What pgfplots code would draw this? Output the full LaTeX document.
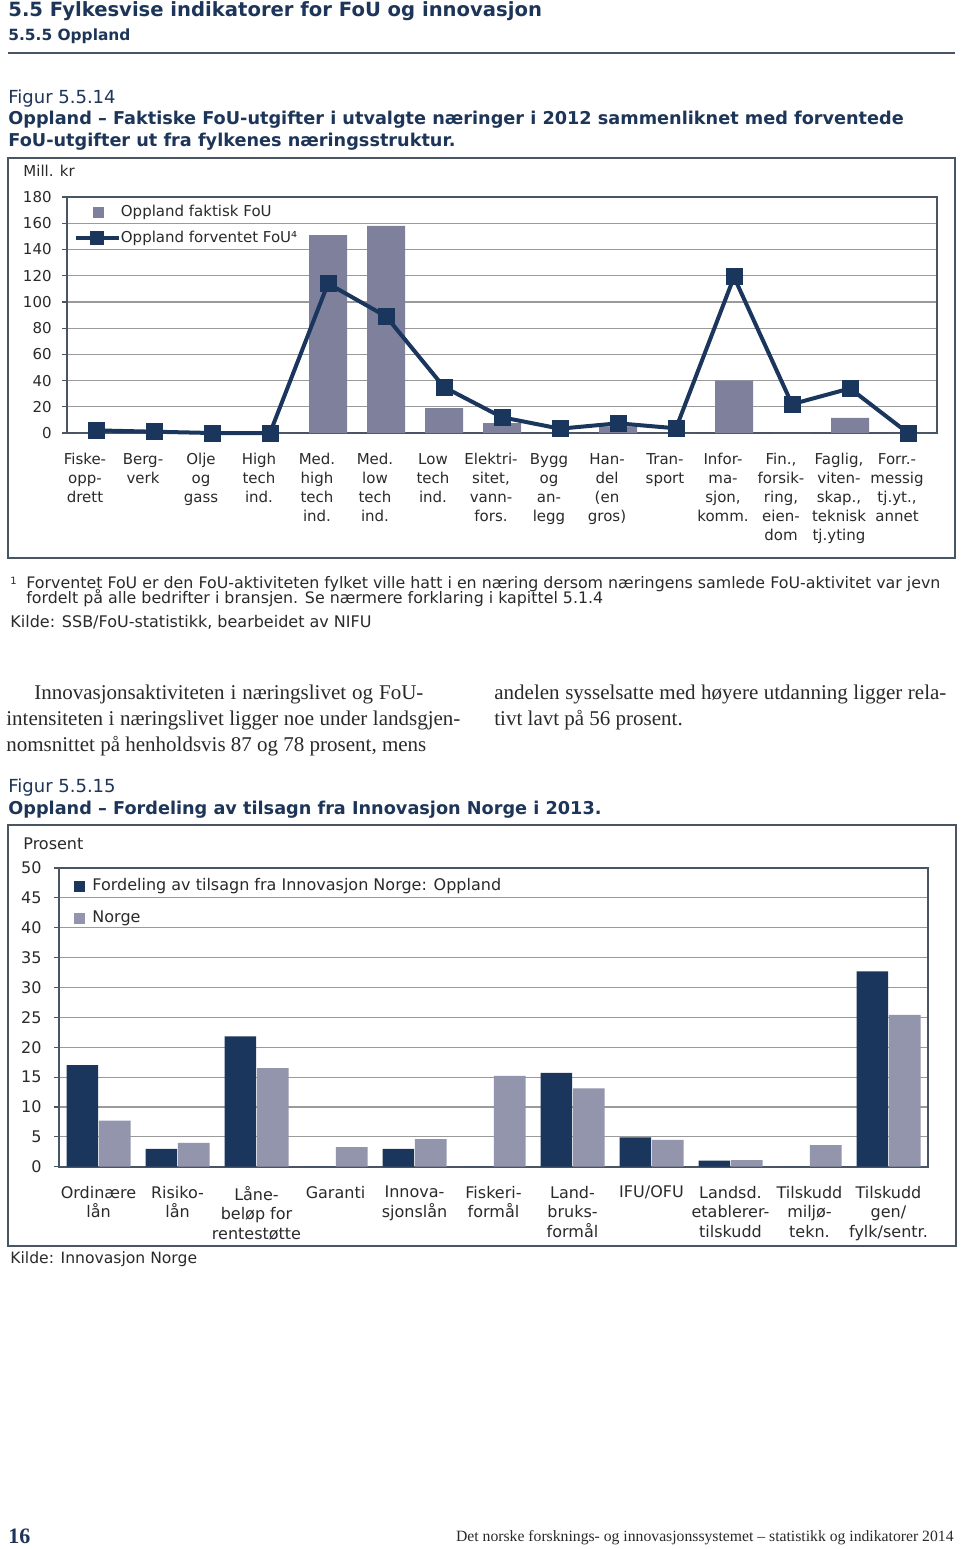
\documentclass[border=0pt]{standalone}
\usepackage{pgfplots}
\pgfplotsset{compat=1.18}
\usepackage{fontspec}
\setmainfont{Liberation Serif}
\newfontfamily\vf{DejaVu Sans}
\definecolor{navy}{HTML}{1B365D}
\definecolor{headc}{HTML}{1D3558}
\definecolor{barA}{HTML}{7F809C}
\definecolor{barB}{HTML}{9395AD}
\definecolor{framec}{HTML}{4A5563}
\definecolor{gridc}{HTML}{9A9A9A}
\definecolor{txt}{HTML}{2A2A2A}
\begin{document}
\begin{tikzpicture}[x=0.5pt,y=-0.5pt]
\path[use as bounding box, fill=white] (0,0) rectangle (960,1549);
% ---------- page headings
\node[anchor=base west, inner sep=0pt, text=headc, font=\vf\bfseries\fontsize{9.8}{11}\selectfont] at (8,16) {5.5 Fylkesvise indikatorer for FoU og innovasjon};
\node[anchor=base west, inner sep=0pt, text=headc, font=\vf\bfseries\fontsize{7.7}{9}\selectfont] at (8,40) {5.5.5 Oppland};
\draw[framec, line width=0.8pt] (8,53) -- (955,53);
\node[anchor=base west, inner sep=0pt, text=headc, font=\vf\fontsize{9}{11}\selectfont] at (8,103) {Figur 5.5.14};
\node[anchor=base west, inner sep=0pt, text=headc, font=\vf\bfseries\fontsize{8.84}{11}\selectfont] at (8,124) {Oppland – Faktiske FoU-utgifter i utvalgte næringer i 2012 sammenliknet med forventede};
\node[anchor=base west, inner sep=0pt, text=headc, font=\vf\bfseries\fontsize{8.84}{11}\selectfont] at (8,146) {FoU-utgifter ut fra fylkenes næringsstruktur.};
\draw[framec, line width=0.8pt] (8,158) rectangle (955,558);
\node[anchor=base west, inner sep=0pt, text=txt, font=\vf\fontsize{7.5}{9}\selectfont] at (23,176) {Mill. kr};
% ---------- footnote chart 1
\node[anchor=base west, inner sep=0pt, text=txt, font=\vf\fontsize{5}{6}\selectfont] at (10,584) {1};
\node[anchor=base west, inner sep=0pt, text=txt, font=\vf\fontsize{7.92}{9}\selectfont] at (26,588) {Forventet FoU er den FoU-aktiviteten fylket ville hatt i en næring dersom næringens samlede FoU-aktivitet var jevn};
\node[anchor=base west, inner sep=0pt, text=txt, font=\vf\fontsize{7.92}{9}\selectfont] at (26,603) {fordelt på alle bedrifter i bransjen. Se nærmere forklaring i kapittel 5.1.4};
\node[anchor=base west, inner sep=0pt, text=txt, font=\vf\fontsize{8}{9}\selectfont] at (10,627) {Kilde: SSB/FoU-statistikk, bearbeidet av NIFU};
% ---------- body text
\begin{scope}[every node/.style={anchor=base west, inner sep=0pt, text=txt, font=\fontsize{10.5}{12}\selectfont}]
\node at (34,699) {\makebox[194.5pt][s]{Innovasjonsaktiviteten i næringslivet og FoU-}};
\node at (6,725) {\makebox[227pt][s]{intensiteten i næringslivet ligger noe under landsgjen-}};
\node at (6,751) {nomsnittet på henholdsvis 87 og 78 prosent, mens};
\node at (494,699) {\makebox[226pt][s]{andelen sysselsatte med høyere utdanning ligger rela-}};
\node at (494,725) {tivt lavt på 56 prosent.};
\end{scope}
% ---------- figure 2 headings
\node[anchor=base west, inner sep=0pt, text=headc, font=\vf\fontsize{9}{11}\selectfont] at (8,792) {Figur 5.5.15};
\node[anchor=base west, inner sep=0pt, text=headc, font=\vf\bfseries\fontsize{8.84}{11}\selectfont] at (8,814) {Oppland – Fordeling av tilsagn fra Innovasjon Norge i 2013.};
\draw[framec, line width=0.8pt] (8,825) rectangle (956,1246);
\node[anchor=base west, inner sep=0pt, text=txt, font=\vf\fontsize{8}{9}\selectfont] at (23,849) {Prosent};
\node[anchor=base west, inner sep=0pt, text=txt, font=\vf\fontsize{7.8}{9}\selectfont] at (10,1263) {Kilde: Innovasjon Norge};
% ---------- footer
\node[anchor=base west, inner sep=0pt, text=headc, font=\bfseries\fontsize{11}{12}\selectfont] at (8,1543) {16};
\node[anchor=base east, inner sep=0pt, text=txt, font=\fontsize{7.85}{9}\selectfont] at (954,1541) {Det norske forsknings- og innovasjonssystemet – statistikk og indikatorer 2014};

\begin{scope}[x=1cm,y=1cm]
% ================= chart 1
\begin{axis}[
  at={(33.5pt,-216.5pt)}, anchor=south west,
  scale only axis, width=435pt, height=118pt,
  xmin=-0.5, xmax=14.5, ymin=0, ymax=180,
  ytick={0,20,...,180}, xtick={0,...,14},
  xticklabels={{Fiske-\\opp-\\drett},{Berg-\\verk},{Olje\\og\\gass},{High\\tech\\ind.},{Med.\\high\\tech\\ind.},{Med.\\low\\tech\\ind.},{Low\\tech\\ind.},{Elektri-\\sitet,\\vann-\\fors.},{Bygg\\og\\an-\\legg},{Han-\\del\\(en\\gros)},{Tran-\\sport},{Infor-\\ma-\\sjon,\\komm.},{Fin.,\\forsik-\\ring,\\eien-\\dom},{Faglig,\\viten-\\skap.,\\teknisk\\tj.yting},{Forr.-\\messig\\tj.yt.,\\annet}},
  axis line style={framec, line width=0.8pt},
  ymajorgrids, major grid style={gridc, line width=0.6pt},
  xtick style={draw=none},
  ytick style={framec, line width=0.6pt},
  ytick pos=left,
  ytick align=outside, xtick align=inside, major tick length=2.5pt,
  /pgf/number format/assume math mode=true,
  yticklabel style={font=\vf\fontsize{7.5}{9}\selectfont, text=txt, inner sep=0pt, xshift=-5pt},
  xticklabel style={font=\vf\fontsize{7.5}{9.5}\selectfont, text=txt, align=center, inner sep=0pt, anchor=north, yshift=-10pt, xshift=-5.5pt},
  clip=false,
  legend style={at={(rel axis cs:0.0075,0.967)}, anchor=north west, draw=none, fill=none, inner sep=0pt, row sep=5pt, column sep=0pt, font=\vf\fontsize{7.5}{9}\selectfont, text=txt, nodes={inner sep=0pt, text height=5.8pt, text depth=1.8pt}},
  legend cell align=left,
]
\addplot[ybar, bar width=19pt, fill=barA, draw=none,
  legend image code/.code={\fill[barA] (8.5pt,-2.75pt) rectangle (14pt,2.75pt);}]
  coordinates {(0,0) (1,0) (2,0) (3,0) (4,151) (5,158) (6,19) (7,7.5) (8,0) (9,5) (10,0) (11,40) (12,0) (13,11.5) (14,0)};
\addlegendentry{Oppland faktisk FoU}
\addplot[navy, line width=2pt, mark=square*, mark size=4pt, mark options={solid, fill=navy, line width=0.5pt},
  legend image code/.code={\draw[navy, line width=2pt] (0pt,0pt) -- (21.5pt,0pt); \fill[navy] (8.25pt,-2.5pt) rectangle (13.25pt,2.5pt);}]
  coordinates {(0,2) (1,1) (2,0) (3,0) (4,114) (5,89) (6,35) (7,12) (8,3.3) (9,7.4) (10,3.6) (11,119) (12,22) (13,34) (14,0)};
\addlegendentry{Oppland forventet FoU⁴}
\end{axis}
% ================= chart 2
\begin{axis}[
  at={(29.5pt,-583.35pt)}, anchor=south west,
  scale only axis, width=434.5pt, height=149.35pt,
  ybar=0.4pt, bar width=15.8pt,
  xmin=-0.5, xmax=10.5, ymin=0, ymax=50,
  ytick={0,5,...,50}, xtick={0,...,10},
  xticklabels={{Ordinære\\lån},{Risiko-\\lån},{Låne-\\beløp for\\rentestøtte},{Garanti},{Innova-\\sjonslån},{Fiskeri-\\formål},{Land-\\bruks-\\formål},{IFU/OFU},{Landsd.\\etablerer-\\tilskudd},{Tilskudd\\miljø-\\tekn.},{Tilskudd\\gen/\\fylk/sentr.}},
  axis line style={framec, line width=0.8pt},
  ymajorgrids, major grid style={gridc, line width=0.6pt},
  xtick style={draw=none},
  ytick style={framec, line width=0.6pt},
  ytick pos=left,
  ytick align=outside, xtick align=inside, major tick length=2.5pt,
  /pgf/number format/assume math mode=true,
  yticklabel style={font=\vf\fontsize{8}{9}\selectfont, text=txt, inner sep=0pt, xshift=-6pt},
  xticklabel style={font=\vf\fontsize{8}{9.75}\selectfont, text=txt, align=center, inner sep=0pt, anchor=north, yshift=-9.5pt},
  legend style={at={(rel axis cs:0.0173,0.966)}, anchor=north west, draw=none, fill=none, inner sep=0pt, row sep=8pt, column sep=3.5pt, font=\vf\fontsize{8}{9}\selectfont, text=txt, nodes={inner sep=0pt, text height=6.1pt, text depth=1.9pt}},
  legend cell align=left,
]
\addplot[fill=navy, draw=none, legend image code/.code={\fill[navy] (0pt,-2.75pt) rectangle (5.5pt,2.75pt);}]
  coordinates {(0,17) (1,3) (2,21.8) (3,0) (4,3) (5,0) (6,15.7) (7,4.9) (8,1) (9,0) (10,32.7)};
\addlegendentry{Fordeling av tilsagn fra Innovasjon Norge: Oppland}
\addplot[fill=barB, draw=none, legend image code/.code={\fill[barB] (0pt,-2.75pt) rectangle (5.5pt,2.75pt);}]
  coordinates {(0,7.7) (1,4) (2,16.5) (3,3.3) (4,4.6) (5,15.2) (6,13.1) (7,4.5) (8,1.1) (9,3.6) (10,25.4)};
\addlegendentry{Norge}
\end{axis}
\end{scope}
\end{tikzpicture}
\end{document}
